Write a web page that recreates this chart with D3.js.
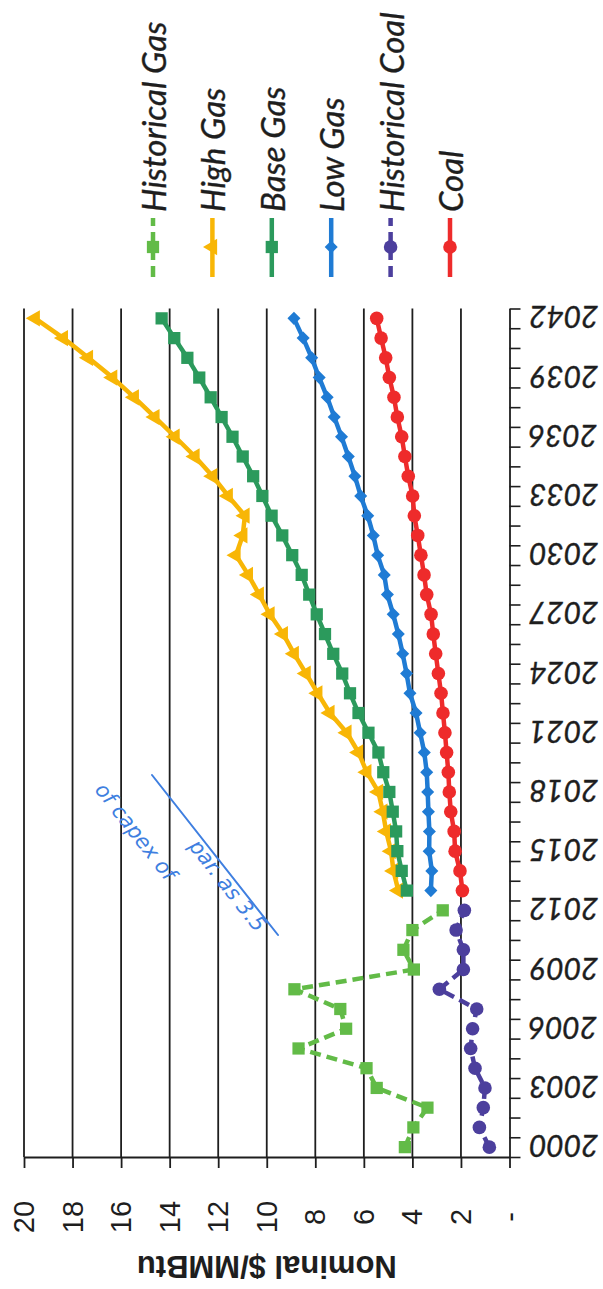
<!DOCTYPE html>
<html>
<head>
<meta charset="utf-8">
<script src="https://cdn.jsdelivr.net/npm/d3@7"></script>
<style>
  html, body { margin: 0; padding: 0; background: #fff; }
  svg { display: block; }
</style>
</head>
<body>
<svg id="chart" width="603" height="1289"></svg>
<script>
// ---- data -------------------------------------------------------------
const historicalYears = d3.range(2000, 2013);   // 2000 .. 2012
const forecastYears   = d3.range(2013, 2043);   // 2013 .. 2042

const historicalGas  = [4.31, 3.96, 3.38, 5.47, 5.89, 8.69, 6.73, 6.97, 8.86, 3.94, 4.37, 4.00, 2.75];
const historicalCoal = [0.83, 1.24, 1.08, 1.01, 1.42, 1.60, 1.52, 1.35, 2.89, 1.90, 1.90, 2.20, 1.86];

const highGas = [4.58, 4.78, 4.88, 5.08, 5.22, 5.40, 5.88, 6.22, 6.70, 7.40,
                 7.90, 8.38, 8.87, 9.32, 9.87, 10.31, 10.76, 11.27, 10.99, 10.90,
                 11.59, 12.23, 12.96, 13.78, 14.61, 15.46, 16.35, 17.35, 18.38, 19.54];
const baseGas = [4.23, 4.44, 4.62, 4.67, 4.81, 4.95, 5.20, 5.40, 5.81, 6.22,
                 6.57, 6.89, 7.26, 7.60, 7.94, 8.25, 8.56, 8.95, 9.36, 9.80,
                 10.18, 10.56, 10.99, 11.41, 11.86, 12.31, 12.78, 13.27, 13.81, 14.33];
const lowGas  = [3.24, 3.20, 3.31, 3.30, 3.34, 3.37, 3.41, 3.51, 3.68, 3.85,
                 4.10, 4.24, 4.40, 4.58, 4.79, 5.03, 5.16, 5.43, 5.61, 5.84,
                 6.13, 6.37, 6.64, 6.92, 7.22, 7.51, 7.84, 8.15, 8.50, 8.88];
const coal    = [1.94, 2.04, 2.24, 2.28, 2.42, 2.48, 2.52, 2.59, 2.66, 2.74,
                 2.82, 2.93, 3.04, 3.14, 3.23, 3.41, 3.52, 3.65, 3.78, 3.92,
                 3.99, 4.17, 4.31, 4.44, 4.62, 4.76, 4.95, 5.10, 5.29, 5.47];

const seriesNames = ["Historical Gas", "High Gas", "Base Gas", "Low Gas", "Historical Coal", "Coal"];
const valueTicks = [0, 2, 4, 6, 8, 10, 12, 14, 16, 18, 20];
const valueTickLabels = ["-", "2", "4", "6", "8", "10", "12", "14", "16", "18", "20"];
const yearTickLabels = ["2000", "2003", "2006", "2009", "2012", "2015", "2018", "2021",
                        "2024", "2027", "2030", "2033", "2036", "2039", "2042"];
const axisTitle = "Nominal $/MMBtu";

// ---- styling per series ----------------------------------------------
const styles = {
  "Historical Gas":  { color: "#62bb47", symbol: "square",   dashed: true  },
  "High Gas":        { color: "#f8b606", symbol: "triangle", dashed: false },
  "Base Gas":        { color: "#2b9a5c", symbol: "square",   dashed: false },
  "Low Gas":         { color: "#1f7bd4", symbol: "diamond",  dashed: false },
  "Historical Coal": { color: "#4c3f9d", symbol: "circle",   dashed: true  },
  "Coal":            { color: "#ee2b2b", symbol: "circle",   dashed: false }
};

const series = [
  { name: "Historical Gas",  years: historicalYears, values: historicalGas },
  { name: "High Gas",        years: forecastYears,   values: highGas },
  { name: "Base Gas",        years: forecastYears,   values: baseGas },
  { name: "Low Gas",         years: forecastYears,   values: lowGas },
  { name: "Historical Coal", years: historicalYears, values: historicalCoal },
  { name: "Coal",            years: forecastYears,   values: coal }
].map(s => ({ ...s, points: s.years.map((yr, i) => ({ yr, v: s.values[i] })) }));

// ---- page is laid out sideways: years run up the page, prices run leftwards
const svg = d3.select("#chart");
const x = d3.scaleLinear().domain([0, 20]).range([509.5, 24]);          // price
const y = d3.scaleLinear().domain([1999.5, 2042.5]).range([1157, 308.5]); // year (category bands)

const ink = "#1e1e1e";

// grid lines
svg.append("g")
  .selectAll("line")
  .data(valueTicks.filter(v => v > 0))
  .join("line")
  .attr("x1", d => x(d)).attr("x2", d => x(d))
  .attr("y1", y(1999.5)).attr("y2", y(2042.5))
  .attr("stroke", ink).attr("stroke-width", 1.8);

// price axis (along the bottom of the page)
const priceAxis = svg.append("g")
  .attr("transform", `translate(0,${y(1999.5)})`)
  .call(d3.axisBottom(x).tickValues(valueTicks).tickSize(11).tickFormat("").tickSizeOuter(0));
priceAxis.select(".domain").attr("stroke", ink).attr("stroke-width", 1.8);
priceAxis.selectAll(".tick line").attr("stroke", ink).attr("stroke-width", 1.8);

svg.append("g")
  .selectAll("text")
  .data(valueTicks)
  .join("text")
  .attr("transform", d => `translate(${x(d)},1217) rotate(-90)`)
  .attr("text-anchor", "middle")
  .attr("dominant-baseline", "central")
  .attr("font-family", "Liberation Sans, Arial, sans-serif")
  .attr("font-size", 29)
  .attr("fill", ink)
  .text((d, i) => valueTickLabels[i]);

svg.append("text")
  .attr("transform", `translate(${(x(0) + x(20)) / 2},1266) rotate(180)`)
  .attr("text-anchor", "middle")
  .attr("dominant-baseline", "central")
  .attr("font-family", "Liberation Sans, Arial, sans-serif")
  .attr("font-weight", "bold")
  .attr("font-size", 31)
  .attr("fill", ink)
  .text(axisTitle);

// year axis (along the right edge of the page)
const bandEdges = d3.range(1999.5, 2043, 1);
const yearAxis = svg.append("g")
  .attr("transform", `translate(${x(0)},0)`)
  .call(d3.axisRight(y).tickValues(bandEdges).tickSize(11).tickFormat("").tickSizeOuter(0));
yearAxis.select(".domain").attr("stroke", ink).attr("stroke-width", 1.8);
yearAxis.selectAll(".tick line").attr("stroke", ink).attr("stroke-width", 1.6);

svg.append("g")
  .selectAll("text")
  .data(yearTickLabels)
  .join("text")
  .attr("transform", d => `translate(529,${y(+d)}) rotate(180)`)
  .attr("text-anchor", "end")
  .attr("dominant-baseline", "central")
  .attr("font-family", "Lato, Carlito, sans-serif")
  .attr("font-style", "italic")
  .attr("font-size", 30)
  .attr("fill", ink)
  .attr("stroke", ink)
  .attr("stroke-width", 0.35)
  .text(d => d);

// ---- series -----------------------------------------------------------
const line = d3.line().x(d => x(d.v)).y(d => y(d.yr));

function markerPath(kind) {
  if (kind === "square")   return d3.symbol(d3.symbolSquare, 150)();
  if (kind === "triangle") return d3.symbol(d3.symbolTriangle, 115)();
  if (kind === "diamond")  return d3.symbol(d3.symbolSquare, 85)();
  return d3.symbol(d3.symbolCircle, 145)();
}
function markerRotation(kind) {
  if (kind === "triangle") return -90;   // points toward the higher prices
  if (kind === "diamond")  return 45;
  return 0;
}

const plot = svg.append("g");
series.forEach(s => {
  const st = styles[s.name];
  plot.append("path")
    .datum(s.points)
    .attr("d", line)
    .attr("fill", "none")
    .attr("stroke", st.color)
    .attr("stroke-width", 4.5)
    .attr("stroke-linejoin", "round")
    .attr("stroke-dasharray", st.dashed ? "11 6" : null);
  plot.append("g")
    .selectAll("path")
    .data(s.points)
    .join("path")
    .attr("d", markerPath(st.symbol))
    .attr("transform", d => `translate(${x(d.v)},${y(d.yr)}) rotate(${markerRotation(st.symbol)})`)
    .attr("fill", st.color);
});

// ---- legend (top of the page, one column per series) -------------------
const legendX = d3.scalePoint().domain(seriesNames).range([153, 450]);
const legend = svg.append("g")
  .selectAll("g")
  .data(seriesNames)
  .join("g")
  .attr("transform", d => `translate(${legendX(d)},0)`);

legend.append("line")
  .attr("x1", 0).attr("x2", 0).attr("y1", 218).attr("y2", 277)
  .attr("stroke", d => styles[d].color)
  .attr("stroke-width", 4.5)
  .attr("stroke-dasharray", d => styles[d].dashed ? "11 6" : null)
  .attr("stroke-dashoffset", d => styles[d].dashed ? 3 : null);
legend.append("path")
  .attr("d", d => markerPath(styles[d].symbol))
  .attr("transform", d => `translate(0,247) rotate(${markerRotation(styles[d].symbol)})`)
  .attr("fill", d => styles[d].color);
legend.append("text")
  .attr("transform", "translate(0,212) rotate(-90)")
  .attr("text-anchor", "start")
  .attr("dominant-baseline", "central")
  .attr("font-family", "Lato, Carlito, sans-serif")
  .attr("font-style", "italic")
  .attr("font-size", 33)
  .attr("fill", ink)
  .attr("stroke", ink)
  .attr("stroke-width", 0.35)
  .text(d => d);

// ---- pen note written across the grid --------------------------------
const pen = "#3f7fe0";
const note = svg.append("g").attr("fill", pen);
svg.append("line")
  .attr("x1", 152).attr("y1", 775).attr("x2", 278).attr("y2", 935)
  .attr("stroke", pen).attr("stroke-width", 2).attr("stroke-linecap", "round");
note.append("text")
  .attr("transform", "translate(130,836) rotate(52)")
  .attr("text-anchor", "middle")
  .attr("font-family", "DejaVu Sans, sans-serif")
  .attr("font-style", "italic")
  .attr("font-size", 21)
  .text("of capex of");
note.append("text")
  .attr("transform", "translate(222,890) rotate(52)")
  .attr("text-anchor", "middle")
  .attr("font-family", "DejaVu Sans, sans-serif")
  .attr("font-style", "italic")
  .attr("font-size", 21)
  .text("par. as 3.5");
</script>
</body>
</html>
